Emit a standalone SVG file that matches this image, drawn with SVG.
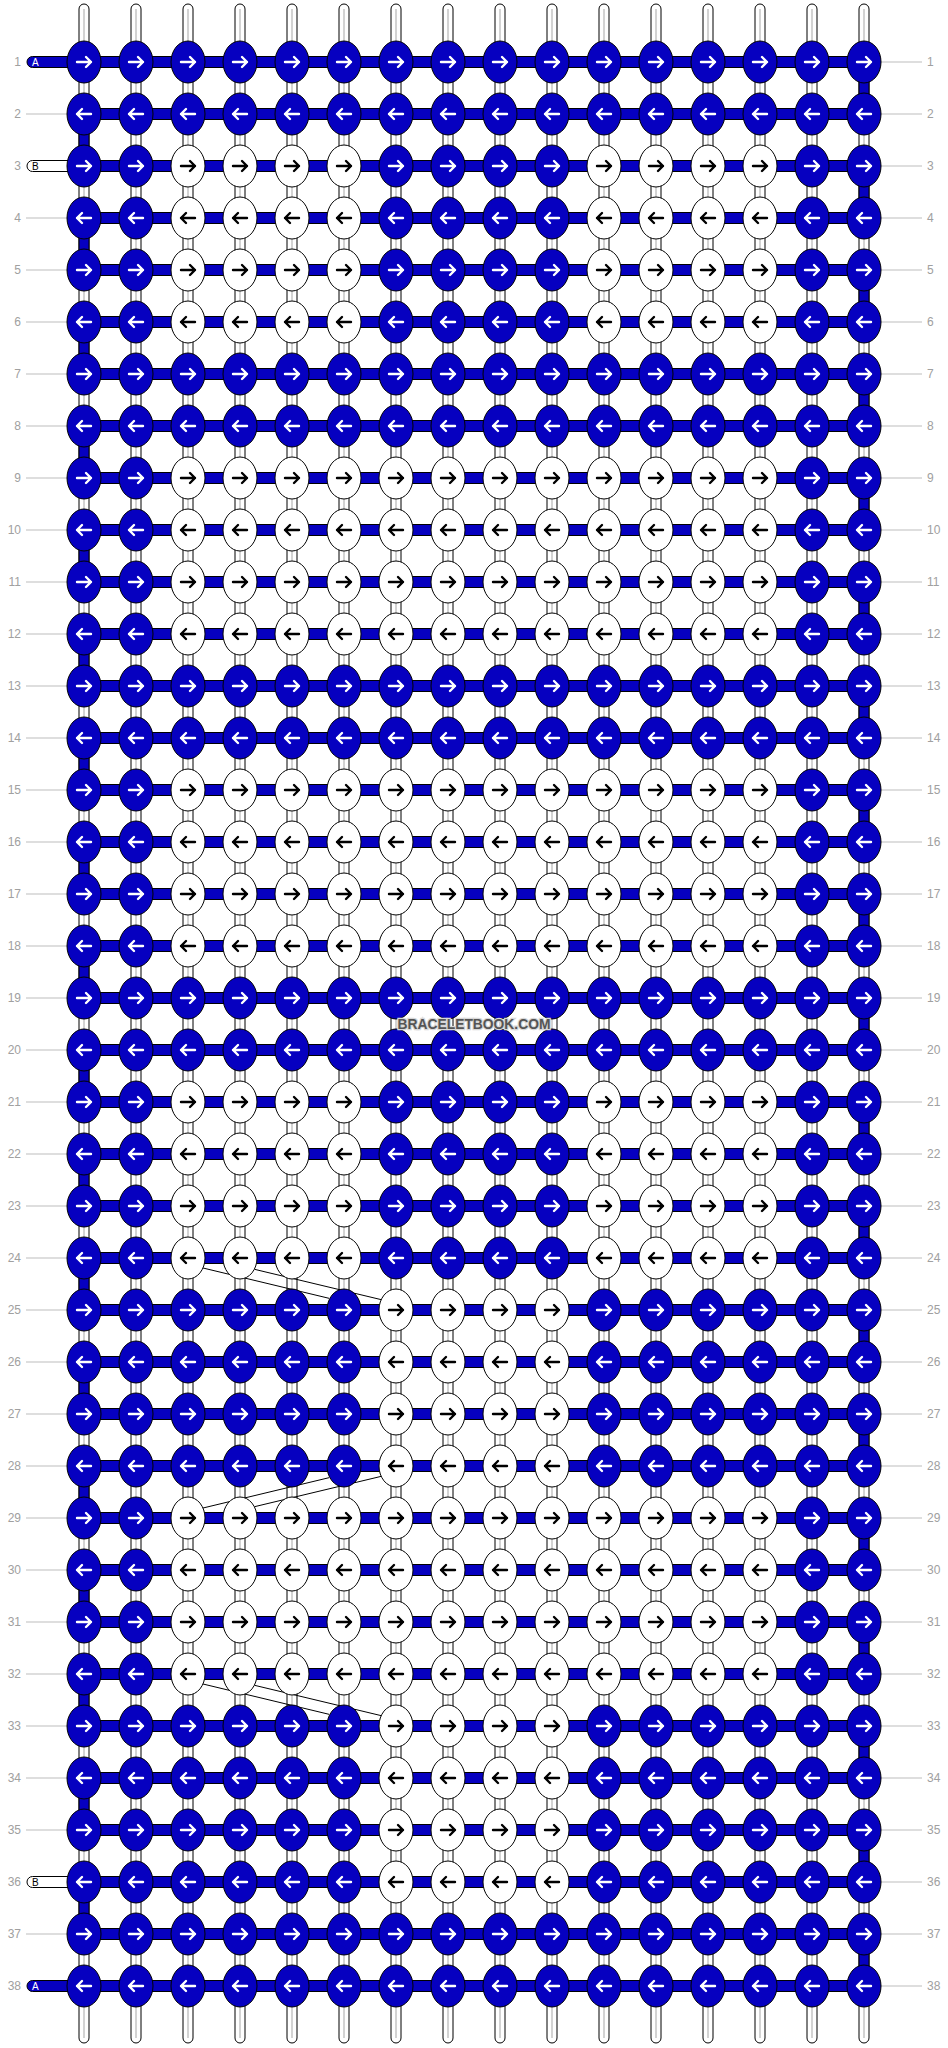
<svg xmlns="http://www.w3.org/2000/svg" width="948" height="2048" viewBox="0 0 948 2048">
<style>
.kb{fill:#0600c0;stroke:#000;stroke-width:1}
.kw{fill:#fff;stroke:#000;stroke-width:1}
.aw{fill:none;stroke:#fff;stroke-width:2.4;stroke-linecap:round;stroke-linejoin:round}
.ab{fill:none;stroke:#000;stroke-width:2.4;stroke-linecap:round;stroke-linejoin:round}
.vs{fill:#fff;stroke:#000;stroke-width:1}
.vg{stroke:#c4c4c4;stroke-width:1.5}
.hb{fill:#0600c0;stroke:#000;stroke-width:1}
.eb{fill:#0600c0;stroke:#000;stroke-width:1}
.dl{stroke:#000;stroke-width:1;fill:none}
.gl{stroke:#bdbdbd;stroke-width:1}
.num{font-family:"Liberation Sans",Arial,sans-serif;font-size:12px;fill:#a0a0a0}
.pa{fill:#0600c0;stroke:#000;stroke-width:1}
.pb{fill:#fff;stroke:#000;stroke-width:1}
.lt{font-family:"Liberation Sans",Arial,sans-serif;font-size:10px}
.wm{font-family:"Liberation Sans",Arial,sans-serif;font-weight:bold;font-size:14.5px;fill:#555;stroke:#d8d8d8;stroke-width:2.5;paint-order:stroke;text-anchor:middle}
</style>
<defs>
<g id="bR"><ellipse rx="17" ry="21" class="kb"/><path d="M-7 0H7M2-5L7 0L2 5" class="aw"/></g>
<g id="bL"><ellipse rx="17" ry="21" class="kb"/><path d="M7 0H-7M-2-5L-7 0L-2 5" class="aw"/></g>
<g id="wR"><ellipse rx="17" ry="21" class="kw"/><path d="M-7 0H7M2-5L7 0L2 5" class="ab"/></g>
<g id="wL"><ellipse rx="17" ry="21" class="kw"/><path d="M7 0H-7M-2-5L-7 0L-2 5" class="ab"/></g>
</defs>
<rect width="948" height="2048" fill="#fff"/>
<g id="connectors">
<g id="strings">
<rect class="vs" x="79" y="4" width="10" height="2039" rx="5"/><line class="vg" x1="84" y1="9" x2="84" y2="2038"/>
<rect class="vs" x="131" y="4" width="10" height="2039" rx="5"/><line class="vg" x1="136" y1="9" x2="136" y2="2038"/>
<rect class="vs" x="183" y="4" width="10" height="2039" rx="5"/><line class="vg" x1="188" y1="9" x2="188" y2="2038"/>
<rect class="vs" x="235" y="4" width="10" height="2039" rx="5"/><line class="vg" x1="240" y1="9" x2="240" y2="2038"/>
<rect class="vs" x="287" y="4" width="10" height="2039" rx="5"/><line class="vg" x1="292" y1="9" x2="292" y2="2038"/>
<rect class="vs" x="339" y="4" width="10" height="2039" rx="5"/><line class="vg" x1="344" y1="9" x2="344" y2="2038"/>
<rect class="vs" x="391" y="4" width="10" height="2039" rx="5"/><line class="vg" x1="396" y1="9" x2="396" y2="2038"/>
<rect class="vs" x="443" y="4" width="10" height="2039" rx="5"/><line class="vg" x1="448" y1="9" x2="448" y2="2038"/>
<rect class="vs" x="495" y="4" width="10" height="2039" rx="5"/><line class="vg" x1="500" y1="9" x2="500" y2="2038"/>
<rect class="vs" x="547" y="4" width="10" height="2039" rx="5"/><line class="vg" x1="552" y1="9" x2="552" y2="2038"/>
<rect class="vs" x="599" y="4" width="10" height="2039" rx="5"/><line class="vg" x1="604" y1="9" x2="604" y2="2038"/>
<rect class="vs" x="651" y="4" width="10" height="2039" rx="5"/><line class="vg" x1="656" y1="9" x2="656" y2="2038"/>
<rect class="vs" x="703" y="4" width="10" height="2039" rx="5"/><line class="vg" x1="708" y1="9" x2="708" y2="2038"/>
<rect class="vs" x="755" y="4" width="10" height="2039" rx="5"/><line class="vg" x1="760" y1="9" x2="760" y2="2038"/>
<rect class="vs" x="807" y="4" width="10" height="2039" rx="5"/><line class="vg" x1="812" y1="9" x2="812" y2="2038"/>
<rect class="vs" x="859" y="4" width="10" height="2039" rx="5"/><line class="vg" x1="864" y1="9" x2="864" y2="2038"/>
</g>
<g id="bars">
<rect class="hb" x="84" y="56.5" width="780" height="11"/>
<rect class="hb" x="84" y="108.5" width="780" height="11"/>
<rect class="hb" x="84" y="160.5" width="780" height="11"/>
<rect class="hb" x="84" y="212.5" width="780" height="11"/>
<rect class="hb" x="84" y="264.5" width="780" height="11"/>
<rect class="hb" x="84" y="316.5" width="780" height="11"/>
<rect class="hb" x="84" y="368.5" width="780" height="11"/>
<rect class="hb" x="84" y="420.5" width="780" height="11"/>
<rect class="hb" x="84" y="472.5" width="780" height="11"/>
<rect class="hb" x="84" y="524.5" width="780" height="11"/>
<rect class="hb" x="84" y="576.5" width="780" height="11"/>
<rect class="hb" x="84" y="628.5" width="780" height="11"/>
<rect class="hb" x="84" y="680.5" width="780" height="11"/>
<rect class="hb" x="84" y="732.5" width="780" height="11"/>
<rect class="hb" x="84" y="784.5" width="780" height="11"/>
<rect class="hb" x="84" y="836.5" width="780" height="11"/>
<rect class="hb" x="84" y="888.5" width="780" height="11"/>
<rect class="hb" x="84" y="940.5" width="780" height="11"/>
<rect class="hb" x="84" y="992.5" width="780" height="11"/>
<rect class="hb" x="84" y="1044.5" width="780" height="11"/>
<rect class="hb" x="84" y="1096.5" width="780" height="11"/>
<rect class="hb" x="84" y="1148.5" width="780" height="11"/>
<rect class="hb" x="84" y="1200.5" width="780" height="11"/>
<rect class="hb" x="84" y="1252.5" width="780" height="11"/>
<rect class="hb" x="84" y="1304.5" width="780" height="11"/>
<rect class="hb" x="84" y="1356.5" width="780" height="11"/>
<rect class="hb" x="84" y="1408.5" width="780" height="11"/>
<rect class="hb" x="84" y="1460.5" width="780" height="11"/>
<rect class="hb" x="84" y="1512.5" width="780" height="11"/>
<rect class="hb" x="84" y="1564.5" width="780" height="11"/>
<rect class="hb" x="84" y="1616.5" width="780" height="11"/>
<rect class="hb" x="84" y="1668.5" width="780" height="11"/>
<rect class="hb" x="84" y="1720.5" width="780" height="11"/>
<rect class="hb" x="84" y="1772.5" width="780" height="11"/>
<rect class="hb" x="84" y="1824.5" width="780" height="11"/>
<rect class="hb" x="84" y="1876.5" width="780" height="11"/>
<rect class="hb" x="84" y="1928.5" width="780" height="11"/>
<rect class="hb" x="84" y="1980.5" width="780" height="11"/>
</g>
<g id="edge-turns">
<path class="eb" d="M79 114h10v52h-10zM79 218h10v52h-10zM79 322h10v52h-10zM79 426h10v52h-10zM79 530h10v52h-10zM79 634h10v52h-10zM79 738h10v52h-10zM79 842h10v52h-10zM79 946h10v52h-10zM79 1050h10v52h-10zM79 1154h10v52h-10zM79 1258h10v52h-10zM79 1362h10v52h-10zM79 1466h10v52h-10zM79 1570h10v52h-10zM79 1674h10v52h-10zM79 1778h10v52h-10zM79 1882h10v52h-10z"/>
<path class="eb" d="M859 62h10v52h-10zM859 166h10v52h-10zM859 270h10v52h-10zM859 374h10v52h-10zM859 478h10v52h-10zM859 582h10v52h-10zM859 686h10v52h-10zM859 790h10v52h-10zM859 894h10v52h-10zM859 998h10v52h-10zM859 1102h10v52h-10zM859 1206h10v52h-10zM859 1310h10v52h-10zM859 1414h10v52h-10zM859 1518h10v52h-10zM859 1622h10v52h-10zM859 1726h10v52h-10zM859 1830h10v52h-10zM859 1934h10v52h-10z"/>
</g>
<g id="diagonals">
<line class="dl" x1="203" y1="1268" x2="329" y2="1298.3"/>
<line class="dl" x1="254.5" y1="1269.3" x2="381" y2="1299.6"/>
<line class="dl" x1="203" y1="1508" x2="329" y2="1477.7"/>
<line class="dl" x1="254.5" y1="1506.7" x2="381" y2="1476.4"/>
<line class="dl" x1="203" y1="1684" x2="329" y2="1714.3"/>
<line class="dl" x1="254.5" y1="1685.3" x2="381" y2="1715.6"/>
</g>
</g>
<g id="labels">
<g id="guides">
<line class="gl" x1="26" y1="114" x2="67" y2="114"/>
<line class="gl" x1="26" y1="218" x2="67" y2="218"/>
<line class="gl" x1="26" y1="270" x2="67" y2="270"/>
<line class="gl" x1="26" y1="322" x2="67" y2="322"/>
<line class="gl" x1="26" y1="374" x2="67" y2="374"/>
<line class="gl" x1="26" y1="426" x2="67" y2="426"/>
<line class="gl" x1="26" y1="478" x2="67" y2="478"/>
<line class="gl" x1="26" y1="530" x2="67" y2="530"/>
<line class="gl" x1="26" y1="582" x2="67" y2="582"/>
<line class="gl" x1="26" y1="634" x2="67" y2="634"/>
<line class="gl" x1="26" y1="686" x2="67" y2="686"/>
<line class="gl" x1="26" y1="738" x2="67" y2="738"/>
<line class="gl" x1="26" y1="790" x2="67" y2="790"/>
<line class="gl" x1="26" y1="842" x2="67" y2="842"/>
<line class="gl" x1="26" y1="894" x2="67" y2="894"/>
<line class="gl" x1="26" y1="946" x2="67" y2="946"/>
<line class="gl" x1="26" y1="998" x2="67" y2="998"/>
<line class="gl" x1="26" y1="1050" x2="67" y2="1050"/>
<line class="gl" x1="26" y1="1102" x2="67" y2="1102"/>
<line class="gl" x1="26" y1="1154" x2="67" y2="1154"/>
<line class="gl" x1="26" y1="1206" x2="67" y2="1206"/>
<line class="gl" x1="26" y1="1258" x2="67" y2="1258"/>
<line class="gl" x1="26" y1="1310" x2="67" y2="1310"/>
<line class="gl" x1="26" y1="1362" x2="67" y2="1362"/>
<line class="gl" x1="26" y1="1414" x2="67" y2="1414"/>
<line class="gl" x1="26" y1="1466" x2="67" y2="1466"/>
<line class="gl" x1="26" y1="1518" x2="67" y2="1518"/>
<line class="gl" x1="26" y1="1570" x2="67" y2="1570"/>
<line class="gl" x1="26" y1="1622" x2="67" y2="1622"/>
<line class="gl" x1="26" y1="1674" x2="67" y2="1674"/>
<line class="gl" x1="26" y1="1726" x2="67" y2="1726"/>
<line class="gl" x1="26" y1="1778" x2="67" y2="1778"/>
<line class="gl" x1="26" y1="1830" x2="67" y2="1830"/>
<line class="gl" x1="26" y1="1934" x2="67" y2="1934"/>
<path class="gl" d="M881 62H922M881 114H922M881 166H922M881 218H922M881 270H922M881 322H922M881 374H922M881 426H922M881 478H922M881 530H922M881 582H922M881 634H922M881 686H922M881 738H922M881 790H922M881 842H922M881 894H922M881 946H922M881 998H922M881 1050H922M881 1102H922M881 1154H922M881 1206H922M881 1258H922M881 1310H922M881 1362H922M881 1414H922M881 1466H922M881 1518H922M881 1570H922M881 1622H922M881 1674H922M881 1726H922M881 1778H922M881 1830H922M881 1882H922M881 1934H922M881 1986H922"/>
</g>
<g id="pills">
<path class="pa" d="M32.5 56.5H84V67.5H32.5A5.5 5.5 0 0 1 32.5 56.5Z"/><text class="lt" x="32" y="65.6" fill="#fff">A</text>
<path class="pb" d="M32.5 160.5H84V171.5H32.5A5.5 5.5 0 0 1 32.5 160.5Z"/><text class="lt" x="32" y="169.6" fill="#000">B</text>
<path class="pb" d="M32.5 1876.5H84V1887.5H32.5A5.5 5.5 0 0 1 32.5 1876.5Z"/><text class="lt" x="32" y="1885.6" fill="#000">B</text>
<path class="pa" d="M32.5 1980.5H84V1991.5H32.5A5.5 5.5 0 0 1 32.5 1980.5Z"/><text class="lt" x="32" y="1989.6" fill="#fff">A</text>
</g>
<g id="numbers-left" class="num" text-anchor="end">
<text x="21" y="66.3">1</text><text x="21" y="118.3">2</text><text x="21" y="170.3">3</text><text x="21" y="222.3">4</text><text x="21" y="274.3">5</text><text x="21" y="326.3">6</text><text x="21" y="378.3">7</text><text x="21" y="430.3">8</text><text x="21" y="482.3">9</text><text x="21" y="534.3">10</text><text x="21" y="586.3">11</text><text x="21" y="638.3">12</text><text x="21" y="690.3">13</text><text x="21" y="742.3">14</text><text x="21" y="794.3">15</text><text x="21" y="846.3">16</text><text x="21" y="898.3">17</text><text x="21" y="950.3">18</text><text x="21" y="1002.3">19</text><text x="21" y="1054.3">20</text><text x="21" y="1106.3">21</text><text x="21" y="1158.3">22</text><text x="21" y="1210.3">23</text><text x="21" y="1262.3">24</text><text x="21" y="1314.3">25</text><text x="21" y="1366.3">26</text><text x="21" y="1418.3">27</text><text x="21" y="1470.3">28</text><text x="21" y="1522.3">29</text><text x="21" y="1574.3">30</text><text x="21" y="1626.3">31</text><text x="21" y="1678.3">32</text><text x="21" y="1730.3">33</text><text x="21" y="1782.3">34</text><text x="21" y="1834.3">35</text><text x="21" y="1886.3">36</text><text x="21" y="1938.3">37</text><text x="21" y="1990.3">38</text>
</g>
<g id="numbers-right" class="num">
<text x="927" y="66.3">1</text><text x="927" y="118.3">2</text><text x="927" y="170.3">3</text><text x="927" y="222.3">4</text><text x="927" y="274.3">5</text><text x="927" y="326.3">6</text><text x="927" y="378.3">7</text><text x="927" y="430.3">8</text><text x="927" y="482.3">9</text><text x="927" y="534.3">10</text><text x="927" y="586.3">11</text><text x="927" y="638.3">12</text><text x="927" y="690.3">13</text><text x="927" y="742.3">14</text><text x="927" y="794.3">15</text><text x="927" y="846.3">16</text><text x="927" y="898.3">17</text><text x="927" y="950.3">18</text><text x="927" y="1002.3">19</text><text x="927" y="1054.3">20</text><text x="927" y="1106.3">21</text><text x="927" y="1158.3">22</text><text x="927" y="1210.3">23</text><text x="927" y="1262.3">24</text><text x="927" y="1314.3">25</text><text x="927" y="1366.3">26</text><text x="927" y="1418.3">27</text><text x="927" y="1470.3">28</text><text x="927" y="1522.3">29</text><text x="927" y="1574.3">30</text><text x="927" y="1626.3">31</text><text x="927" y="1678.3">32</text><text x="927" y="1730.3">33</text><text x="927" y="1782.3">34</text><text x="927" y="1834.3">35</text><text x="927" y="1886.3">36</text><text x="927" y="1938.3">37</text><text x="927" y="1990.3">38</text>
</g>
</g>
<g id="knots">
<g id="row1" transform="translate(0,62)">
<g id="k1-1"><use href="#bR" x="84"/></g><g id="k1-2"><use href="#bR" x="136"/></g><g id="k1-3"><use href="#bR" x="188"/></g><g id="k1-4"><use href="#bR" x="240"/></g><g id="k1-5"><use href="#bR" x="292"/></g><g id="k1-6"><use href="#bR" x="344"/></g><g id="k1-7"><use href="#bR" x="396"/></g><g id="k1-8"><use href="#bR" x="448"/></g><g id="k1-9"><use href="#bR" x="500"/></g><g id="k1-10"><use href="#bR" x="552"/></g><g id="k1-11"><use href="#bR" x="604"/></g><g id="k1-12"><use href="#bR" x="656"/></g><g id="k1-13"><use href="#bR" x="708"/></g><g id="k1-14"><use href="#bR" x="760"/></g><g id="k1-15"><use href="#bR" x="812"/></g><g id="k1-16"><use href="#bR" x="864"/></g>
</g>
<g id="row2" transform="translate(0,114)">
<g id="k2-1"><use href="#bL" x="84"/></g><g id="k2-2"><use href="#bL" x="136"/></g><g id="k2-3"><use href="#bL" x="188"/></g><g id="k2-4"><use href="#bL" x="240"/></g><g id="k2-5"><use href="#bL" x="292"/></g><g id="k2-6"><use href="#bL" x="344"/></g><g id="k2-7"><use href="#bL" x="396"/></g><g id="k2-8"><use href="#bL" x="448"/></g><g id="k2-9"><use href="#bL" x="500"/></g><g id="k2-10"><use href="#bL" x="552"/></g><g id="k2-11"><use href="#bL" x="604"/></g><g id="k2-12"><use href="#bL" x="656"/></g><g id="k2-13"><use href="#bL" x="708"/></g><g id="k2-14"><use href="#bL" x="760"/></g><g id="k2-15"><use href="#bL" x="812"/></g><g id="k2-16"><use href="#bL" x="864"/></g>
</g>
<g id="row3" transform="translate(0,166)">
<g id="k3-1"><use href="#bR" x="84"/></g><g id="k3-2"><use href="#bR" x="136"/></g><g id="k3-3"><use href="#wR" x="188"/></g><g id="k3-4"><use href="#wR" x="240"/></g><g id="k3-5"><use href="#wR" x="292"/></g><g id="k3-6"><use href="#wR" x="344"/></g><g id="k3-7"><use href="#bR" x="396"/></g><g id="k3-8"><use href="#bR" x="448"/></g><g id="k3-9"><use href="#bR" x="500"/></g><g id="k3-10"><use href="#bR" x="552"/></g><g id="k3-11"><use href="#wR" x="604"/></g><g id="k3-12"><use href="#wR" x="656"/></g><g id="k3-13"><use href="#wR" x="708"/></g><g id="k3-14"><use href="#wR" x="760"/></g><g id="k3-15"><use href="#bR" x="812"/></g><g id="k3-16"><use href="#bR" x="864"/></g>
</g>
<g id="row4" transform="translate(0,218)">
<g id="k4-1"><use href="#bL" x="84"/></g><g id="k4-2"><use href="#bL" x="136"/></g><g id="k4-3"><use href="#wL" x="188"/></g><g id="k4-4"><use href="#wL" x="240"/></g><g id="k4-5"><use href="#wL" x="292"/></g><g id="k4-6"><use href="#wL" x="344"/></g><g id="k4-7"><use href="#bL" x="396"/></g><g id="k4-8"><use href="#bL" x="448"/></g><g id="k4-9"><use href="#bL" x="500"/></g><g id="k4-10"><use href="#bL" x="552"/></g><g id="k4-11"><use href="#wL" x="604"/></g><g id="k4-12"><use href="#wL" x="656"/></g><g id="k4-13"><use href="#wL" x="708"/></g><g id="k4-14"><use href="#wL" x="760"/></g><g id="k4-15"><use href="#bL" x="812"/></g><g id="k4-16"><use href="#bL" x="864"/></g>
</g>
<g id="row5" transform="translate(0,270)">
<g id="k5-1"><use href="#bR" x="84"/></g><g id="k5-2"><use href="#bR" x="136"/></g><g id="k5-3"><use href="#wR" x="188"/></g><g id="k5-4"><use href="#wR" x="240"/></g><g id="k5-5"><use href="#wR" x="292"/></g><g id="k5-6"><use href="#wR" x="344"/></g><g id="k5-7"><use href="#bR" x="396"/></g><g id="k5-8"><use href="#bR" x="448"/></g><g id="k5-9"><use href="#bR" x="500"/></g><g id="k5-10"><use href="#bR" x="552"/></g><g id="k5-11"><use href="#wR" x="604"/></g><g id="k5-12"><use href="#wR" x="656"/></g><g id="k5-13"><use href="#wR" x="708"/></g><g id="k5-14"><use href="#wR" x="760"/></g><g id="k5-15"><use href="#bR" x="812"/></g><g id="k5-16"><use href="#bR" x="864"/></g>
</g>
<g id="row6" transform="translate(0,322)">
<g id="k6-1"><use href="#bL" x="84"/></g><g id="k6-2"><use href="#bL" x="136"/></g><g id="k6-3"><use href="#wL" x="188"/></g><g id="k6-4"><use href="#wL" x="240"/></g><g id="k6-5"><use href="#wL" x="292"/></g><g id="k6-6"><use href="#wL" x="344"/></g><g id="k6-7"><use href="#bL" x="396"/></g><g id="k6-8"><use href="#bL" x="448"/></g><g id="k6-9"><use href="#bL" x="500"/></g><g id="k6-10"><use href="#bL" x="552"/></g><g id="k6-11"><use href="#wL" x="604"/></g><g id="k6-12"><use href="#wL" x="656"/></g><g id="k6-13"><use href="#wL" x="708"/></g><g id="k6-14"><use href="#wL" x="760"/></g><g id="k6-15"><use href="#bL" x="812"/></g><g id="k6-16"><use href="#bL" x="864"/></g>
</g>
<g id="row7" transform="translate(0,374)">
<g id="k7-1"><use href="#bR" x="84"/></g><g id="k7-2"><use href="#bR" x="136"/></g><g id="k7-3"><use href="#bR" x="188"/></g><g id="k7-4"><use href="#bR" x="240"/></g><g id="k7-5"><use href="#bR" x="292"/></g><g id="k7-6"><use href="#bR" x="344"/></g><g id="k7-7"><use href="#bR" x="396"/></g><g id="k7-8"><use href="#bR" x="448"/></g><g id="k7-9"><use href="#bR" x="500"/></g><g id="k7-10"><use href="#bR" x="552"/></g><g id="k7-11"><use href="#bR" x="604"/></g><g id="k7-12"><use href="#bR" x="656"/></g><g id="k7-13"><use href="#bR" x="708"/></g><g id="k7-14"><use href="#bR" x="760"/></g><g id="k7-15"><use href="#bR" x="812"/></g><g id="k7-16"><use href="#bR" x="864"/></g>
</g>
<g id="row8" transform="translate(0,426)">
<g id="k8-1"><use href="#bL" x="84"/></g><g id="k8-2"><use href="#bL" x="136"/></g><g id="k8-3"><use href="#bL" x="188"/></g><g id="k8-4"><use href="#bL" x="240"/></g><g id="k8-5"><use href="#bL" x="292"/></g><g id="k8-6"><use href="#bL" x="344"/></g><g id="k8-7"><use href="#bL" x="396"/></g><g id="k8-8"><use href="#bL" x="448"/></g><g id="k8-9"><use href="#bL" x="500"/></g><g id="k8-10"><use href="#bL" x="552"/></g><g id="k8-11"><use href="#bL" x="604"/></g><g id="k8-12"><use href="#bL" x="656"/></g><g id="k8-13"><use href="#bL" x="708"/></g><g id="k8-14"><use href="#bL" x="760"/></g><g id="k8-15"><use href="#bL" x="812"/></g><g id="k8-16"><use href="#bL" x="864"/></g>
</g>
<g id="row9" transform="translate(0,478)">
<g id="k9-1"><use href="#bR" x="84"/></g><g id="k9-2"><use href="#bR" x="136"/></g><g id="k9-3"><use href="#wR" x="188"/></g><g id="k9-4"><use href="#wR" x="240"/></g><g id="k9-5"><use href="#wR" x="292"/></g><g id="k9-6"><use href="#wR" x="344"/></g><g id="k9-7"><use href="#wR" x="396"/></g><g id="k9-8"><use href="#wR" x="448"/></g><g id="k9-9"><use href="#wR" x="500"/></g><g id="k9-10"><use href="#wR" x="552"/></g><g id="k9-11"><use href="#wR" x="604"/></g><g id="k9-12"><use href="#wR" x="656"/></g><g id="k9-13"><use href="#wR" x="708"/></g><g id="k9-14"><use href="#wR" x="760"/></g><g id="k9-15"><use href="#bR" x="812"/></g><g id="k9-16"><use href="#bR" x="864"/></g>
</g>
<g id="row10" transform="translate(0,530)">
<g id="k10-1"><use href="#bL" x="84"/></g><g id="k10-2"><use href="#bL" x="136"/></g><g id="k10-3"><use href="#wL" x="188"/></g><g id="k10-4"><use href="#wL" x="240"/></g><g id="k10-5"><use href="#wL" x="292"/></g><g id="k10-6"><use href="#wL" x="344"/></g><g id="k10-7"><use href="#wL" x="396"/></g><g id="k10-8"><use href="#wL" x="448"/></g><g id="k10-9"><use href="#wL" x="500"/></g><g id="k10-10"><use href="#wL" x="552"/></g><g id="k10-11"><use href="#wL" x="604"/></g><g id="k10-12"><use href="#wL" x="656"/></g><g id="k10-13"><use href="#wL" x="708"/></g><g id="k10-14"><use href="#wL" x="760"/></g><g id="k10-15"><use href="#bL" x="812"/></g><g id="k10-16"><use href="#bL" x="864"/></g>
</g>
<g id="row11" transform="translate(0,582)">
<g id="k11-1"><use href="#bR" x="84"/></g><g id="k11-2"><use href="#bR" x="136"/></g><g id="k11-3"><use href="#wR" x="188"/></g><g id="k11-4"><use href="#wR" x="240"/></g><g id="k11-5"><use href="#wR" x="292"/></g><g id="k11-6"><use href="#wR" x="344"/></g><g id="k11-7"><use href="#wR" x="396"/></g><g id="k11-8"><use href="#wR" x="448"/></g><g id="k11-9"><use href="#wR" x="500"/></g><g id="k11-10"><use href="#wR" x="552"/></g><g id="k11-11"><use href="#wR" x="604"/></g><g id="k11-12"><use href="#wR" x="656"/></g><g id="k11-13"><use href="#wR" x="708"/></g><g id="k11-14"><use href="#wR" x="760"/></g><g id="k11-15"><use href="#bR" x="812"/></g><g id="k11-16"><use href="#bR" x="864"/></g>
</g>
<g id="row12" transform="translate(0,634)">
<g id="k12-1"><use href="#bL" x="84"/></g><g id="k12-2"><use href="#bL" x="136"/></g><g id="k12-3"><use href="#wL" x="188"/></g><g id="k12-4"><use href="#wL" x="240"/></g><g id="k12-5"><use href="#wL" x="292"/></g><g id="k12-6"><use href="#wL" x="344"/></g><g id="k12-7"><use href="#wL" x="396"/></g><g id="k12-8"><use href="#wL" x="448"/></g><g id="k12-9"><use href="#wL" x="500"/></g><g id="k12-10"><use href="#wL" x="552"/></g><g id="k12-11"><use href="#wL" x="604"/></g><g id="k12-12"><use href="#wL" x="656"/></g><g id="k12-13"><use href="#wL" x="708"/></g><g id="k12-14"><use href="#wL" x="760"/></g><g id="k12-15"><use href="#bL" x="812"/></g><g id="k12-16"><use href="#bL" x="864"/></g>
</g>
<g id="row13" transform="translate(0,686)">
<g id="k13-1"><use href="#bR" x="84"/></g><g id="k13-2"><use href="#bR" x="136"/></g><g id="k13-3"><use href="#bR" x="188"/></g><g id="k13-4"><use href="#bR" x="240"/></g><g id="k13-5"><use href="#bR" x="292"/></g><g id="k13-6"><use href="#bR" x="344"/></g><g id="k13-7"><use href="#bR" x="396"/></g><g id="k13-8"><use href="#bR" x="448"/></g><g id="k13-9"><use href="#bR" x="500"/></g><g id="k13-10"><use href="#bR" x="552"/></g><g id="k13-11"><use href="#bR" x="604"/></g><g id="k13-12"><use href="#bR" x="656"/></g><g id="k13-13"><use href="#bR" x="708"/></g><g id="k13-14"><use href="#bR" x="760"/></g><g id="k13-15"><use href="#bR" x="812"/></g><g id="k13-16"><use href="#bR" x="864"/></g>
</g>
<g id="row14" transform="translate(0,738)">
<g id="k14-1"><use href="#bL" x="84"/></g><g id="k14-2"><use href="#bL" x="136"/></g><g id="k14-3"><use href="#bL" x="188"/></g><g id="k14-4"><use href="#bL" x="240"/></g><g id="k14-5"><use href="#bL" x="292"/></g><g id="k14-6"><use href="#bL" x="344"/></g><g id="k14-7"><use href="#bL" x="396"/></g><g id="k14-8"><use href="#bL" x="448"/></g><g id="k14-9"><use href="#bL" x="500"/></g><g id="k14-10"><use href="#bL" x="552"/></g><g id="k14-11"><use href="#bL" x="604"/></g><g id="k14-12"><use href="#bL" x="656"/></g><g id="k14-13"><use href="#bL" x="708"/></g><g id="k14-14"><use href="#bL" x="760"/></g><g id="k14-15"><use href="#bL" x="812"/></g><g id="k14-16"><use href="#bL" x="864"/></g>
</g>
<g id="row15" transform="translate(0,790)">
<g id="k15-1"><use href="#bR" x="84"/></g><g id="k15-2"><use href="#bR" x="136"/></g><g id="k15-3"><use href="#wR" x="188"/></g><g id="k15-4"><use href="#wR" x="240"/></g><g id="k15-5"><use href="#wR" x="292"/></g><g id="k15-6"><use href="#wR" x="344"/></g><g id="k15-7"><use href="#wR" x="396"/></g><g id="k15-8"><use href="#wR" x="448"/></g><g id="k15-9"><use href="#wR" x="500"/></g><g id="k15-10"><use href="#wR" x="552"/></g><g id="k15-11"><use href="#wR" x="604"/></g><g id="k15-12"><use href="#wR" x="656"/></g><g id="k15-13"><use href="#wR" x="708"/></g><g id="k15-14"><use href="#wR" x="760"/></g><g id="k15-15"><use href="#bR" x="812"/></g><g id="k15-16"><use href="#bR" x="864"/></g>
</g>
<g id="row16" transform="translate(0,842)">
<g id="k16-1"><use href="#bL" x="84"/></g><g id="k16-2"><use href="#bL" x="136"/></g><g id="k16-3"><use href="#wL" x="188"/></g><g id="k16-4"><use href="#wL" x="240"/></g><g id="k16-5"><use href="#wL" x="292"/></g><g id="k16-6"><use href="#wL" x="344"/></g><g id="k16-7"><use href="#wL" x="396"/></g><g id="k16-8"><use href="#wL" x="448"/></g><g id="k16-9"><use href="#wL" x="500"/></g><g id="k16-10"><use href="#wL" x="552"/></g><g id="k16-11"><use href="#wL" x="604"/></g><g id="k16-12"><use href="#wL" x="656"/></g><g id="k16-13"><use href="#wL" x="708"/></g><g id="k16-14"><use href="#wL" x="760"/></g><g id="k16-15"><use href="#bL" x="812"/></g><g id="k16-16"><use href="#bL" x="864"/></g>
</g>
<g id="row17" transform="translate(0,894)">
<g id="k17-1"><use href="#bR" x="84"/></g><g id="k17-2"><use href="#bR" x="136"/></g><g id="k17-3"><use href="#wR" x="188"/></g><g id="k17-4"><use href="#wR" x="240"/></g><g id="k17-5"><use href="#wR" x="292"/></g><g id="k17-6"><use href="#wR" x="344"/></g><g id="k17-7"><use href="#wR" x="396"/></g><g id="k17-8"><use href="#wR" x="448"/></g><g id="k17-9"><use href="#wR" x="500"/></g><g id="k17-10"><use href="#wR" x="552"/></g><g id="k17-11"><use href="#wR" x="604"/></g><g id="k17-12"><use href="#wR" x="656"/></g><g id="k17-13"><use href="#wR" x="708"/></g><g id="k17-14"><use href="#wR" x="760"/></g><g id="k17-15"><use href="#bR" x="812"/></g><g id="k17-16"><use href="#bR" x="864"/></g>
</g>
<g id="row18" transform="translate(0,946)">
<g id="k18-1"><use href="#bL" x="84"/></g><g id="k18-2"><use href="#bL" x="136"/></g><g id="k18-3"><use href="#wL" x="188"/></g><g id="k18-4"><use href="#wL" x="240"/></g><g id="k18-5"><use href="#wL" x="292"/></g><g id="k18-6"><use href="#wL" x="344"/></g><g id="k18-7"><use href="#wL" x="396"/></g><g id="k18-8"><use href="#wL" x="448"/></g><g id="k18-9"><use href="#wL" x="500"/></g><g id="k18-10"><use href="#wL" x="552"/></g><g id="k18-11"><use href="#wL" x="604"/></g><g id="k18-12"><use href="#wL" x="656"/></g><g id="k18-13"><use href="#wL" x="708"/></g><g id="k18-14"><use href="#wL" x="760"/></g><g id="k18-15"><use href="#bL" x="812"/></g><g id="k18-16"><use href="#bL" x="864"/></g>
</g>
<g id="row19" transform="translate(0,998)">
<g id="k19-1"><use href="#bR" x="84"/></g><g id="k19-2"><use href="#bR" x="136"/></g><g id="k19-3"><use href="#bR" x="188"/></g><g id="k19-4"><use href="#bR" x="240"/></g><g id="k19-5"><use href="#bR" x="292"/></g><g id="k19-6"><use href="#bR" x="344"/></g><g id="k19-7"><use href="#bR" x="396"/></g><g id="k19-8"><use href="#bR" x="448"/></g><g id="k19-9"><use href="#bR" x="500"/></g><g id="k19-10"><use href="#bR" x="552"/></g><g id="k19-11"><use href="#bR" x="604"/></g><g id="k19-12"><use href="#bR" x="656"/></g><g id="k19-13"><use href="#bR" x="708"/></g><g id="k19-14"><use href="#bR" x="760"/></g><g id="k19-15"><use href="#bR" x="812"/></g><g id="k19-16"><use href="#bR" x="864"/></g>
</g>
<g id="row20" transform="translate(0,1050)">
<g id="k20-1"><use href="#bL" x="84"/></g><g id="k20-2"><use href="#bL" x="136"/></g><g id="k20-3"><use href="#bL" x="188"/></g><g id="k20-4"><use href="#bL" x="240"/></g><g id="k20-5"><use href="#bL" x="292"/></g><g id="k20-6"><use href="#bL" x="344"/></g><g id="k20-7"><use href="#bL" x="396"/></g><g id="k20-8"><use href="#bL" x="448"/></g><g id="k20-9"><use href="#bL" x="500"/></g><g id="k20-10"><use href="#bL" x="552"/></g><g id="k20-11"><use href="#bL" x="604"/></g><g id="k20-12"><use href="#bL" x="656"/></g><g id="k20-13"><use href="#bL" x="708"/></g><g id="k20-14"><use href="#bL" x="760"/></g><g id="k20-15"><use href="#bL" x="812"/></g><g id="k20-16"><use href="#bL" x="864"/></g>
</g>
<g id="row21" transform="translate(0,1102)">
<g id="k21-1"><use href="#bR" x="84"/></g><g id="k21-2"><use href="#bR" x="136"/></g><g id="k21-3"><use href="#wR" x="188"/></g><g id="k21-4"><use href="#wR" x="240"/></g><g id="k21-5"><use href="#wR" x="292"/></g><g id="k21-6"><use href="#wR" x="344"/></g><g id="k21-7"><use href="#bR" x="396"/></g><g id="k21-8"><use href="#bR" x="448"/></g><g id="k21-9"><use href="#bR" x="500"/></g><g id="k21-10"><use href="#bR" x="552"/></g><g id="k21-11"><use href="#wR" x="604"/></g><g id="k21-12"><use href="#wR" x="656"/></g><g id="k21-13"><use href="#wR" x="708"/></g><g id="k21-14"><use href="#wR" x="760"/></g><g id="k21-15"><use href="#bR" x="812"/></g><g id="k21-16"><use href="#bR" x="864"/></g>
</g>
<g id="row22" transform="translate(0,1154)">
<g id="k22-1"><use href="#bL" x="84"/></g><g id="k22-2"><use href="#bL" x="136"/></g><g id="k22-3"><use href="#wL" x="188"/></g><g id="k22-4"><use href="#wL" x="240"/></g><g id="k22-5"><use href="#wL" x="292"/></g><g id="k22-6"><use href="#wL" x="344"/></g><g id="k22-7"><use href="#bL" x="396"/></g><g id="k22-8"><use href="#bL" x="448"/></g><g id="k22-9"><use href="#bL" x="500"/></g><g id="k22-10"><use href="#bL" x="552"/></g><g id="k22-11"><use href="#wL" x="604"/></g><g id="k22-12"><use href="#wL" x="656"/></g><g id="k22-13"><use href="#wL" x="708"/></g><g id="k22-14"><use href="#wL" x="760"/></g><g id="k22-15"><use href="#bL" x="812"/></g><g id="k22-16"><use href="#bL" x="864"/></g>
</g>
<g id="row23" transform="translate(0,1206)">
<g id="k23-1"><use href="#bR" x="84"/></g><g id="k23-2"><use href="#bR" x="136"/></g><g id="k23-3"><use href="#wR" x="188"/></g><g id="k23-4"><use href="#wR" x="240"/></g><g id="k23-5"><use href="#wR" x="292"/></g><g id="k23-6"><use href="#wR" x="344"/></g><g id="k23-7"><use href="#bR" x="396"/></g><g id="k23-8"><use href="#bR" x="448"/></g><g id="k23-9"><use href="#bR" x="500"/></g><g id="k23-10"><use href="#bR" x="552"/></g><g id="k23-11"><use href="#wR" x="604"/></g><g id="k23-12"><use href="#wR" x="656"/></g><g id="k23-13"><use href="#wR" x="708"/></g><g id="k23-14"><use href="#wR" x="760"/></g><g id="k23-15"><use href="#bR" x="812"/></g><g id="k23-16"><use href="#bR" x="864"/></g>
</g>
<g id="row24" transform="translate(0,1258)">
<g id="k24-1"><use href="#bL" x="84"/></g><g id="k24-2"><use href="#bL" x="136"/></g><g id="k24-3"><use href="#wL" x="188"/></g><g id="k24-4"><use href="#wL" x="240"/></g><g id="k24-5"><use href="#wL" x="292"/></g><g id="k24-6"><use href="#wL" x="344"/></g><g id="k24-7"><use href="#bL" x="396"/></g><g id="k24-8"><use href="#bL" x="448"/></g><g id="k24-9"><use href="#bL" x="500"/></g><g id="k24-10"><use href="#bL" x="552"/></g><g id="k24-11"><use href="#wL" x="604"/></g><g id="k24-12"><use href="#wL" x="656"/></g><g id="k24-13"><use href="#wL" x="708"/></g><g id="k24-14"><use href="#wL" x="760"/></g><g id="k24-15"><use href="#bL" x="812"/></g><g id="k24-16"><use href="#bL" x="864"/></g>
</g>
<g id="row25" transform="translate(0,1310)">
<g id="k25-1"><use href="#bR" x="84"/></g><g id="k25-2"><use href="#bR" x="136"/></g><g id="k25-3"><use href="#bR" x="188"/></g><g id="k25-4"><use href="#bR" x="240"/></g><g id="k25-5"><use href="#bR" x="292"/></g><g id="k25-6"><use href="#bR" x="344"/></g><g id="k25-7"><use href="#wR" x="396"/></g><g id="k25-8"><use href="#wR" x="448"/></g><g id="k25-9"><use href="#wR" x="500"/></g><g id="k25-10"><use href="#wR" x="552"/></g><g id="k25-11"><use href="#bR" x="604"/></g><g id="k25-12"><use href="#bR" x="656"/></g><g id="k25-13"><use href="#bR" x="708"/></g><g id="k25-14"><use href="#bR" x="760"/></g><g id="k25-15"><use href="#bR" x="812"/></g><g id="k25-16"><use href="#bR" x="864"/></g>
</g>
<g id="row26" transform="translate(0,1362)">
<g id="k26-1"><use href="#bL" x="84"/></g><g id="k26-2"><use href="#bL" x="136"/></g><g id="k26-3"><use href="#bL" x="188"/></g><g id="k26-4"><use href="#bL" x="240"/></g><g id="k26-5"><use href="#bL" x="292"/></g><g id="k26-6"><use href="#bL" x="344"/></g><g id="k26-7"><use href="#wL" x="396"/></g><g id="k26-8"><use href="#wL" x="448"/></g><g id="k26-9"><use href="#wL" x="500"/></g><g id="k26-10"><use href="#wL" x="552"/></g><g id="k26-11"><use href="#bL" x="604"/></g><g id="k26-12"><use href="#bL" x="656"/></g><g id="k26-13"><use href="#bL" x="708"/></g><g id="k26-14"><use href="#bL" x="760"/></g><g id="k26-15"><use href="#bL" x="812"/></g><g id="k26-16"><use href="#bL" x="864"/></g>
</g>
<g id="row27" transform="translate(0,1414)">
<g id="k27-1"><use href="#bR" x="84"/></g><g id="k27-2"><use href="#bR" x="136"/></g><g id="k27-3"><use href="#bR" x="188"/></g><g id="k27-4"><use href="#bR" x="240"/></g><g id="k27-5"><use href="#bR" x="292"/></g><g id="k27-6"><use href="#bR" x="344"/></g><g id="k27-7"><use href="#wR" x="396"/></g><g id="k27-8"><use href="#wR" x="448"/></g><g id="k27-9"><use href="#wR" x="500"/></g><g id="k27-10"><use href="#wR" x="552"/></g><g id="k27-11"><use href="#bR" x="604"/></g><g id="k27-12"><use href="#bR" x="656"/></g><g id="k27-13"><use href="#bR" x="708"/></g><g id="k27-14"><use href="#bR" x="760"/></g><g id="k27-15"><use href="#bR" x="812"/></g><g id="k27-16"><use href="#bR" x="864"/></g>
</g>
<g id="row28" transform="translate(0,1466)">
<g id="k28-1"><use href="#bL" x="84"/></g><g id="k28-2"><use href="#bL" x="136"/></g><g id="k28-3"><use href="#bL" x="188"/></g><g id="k28-4"><use href="#bL" x="240"/></g><g id="k28-5"><use href="#bL" x="292"/></g><g id="k28-6"><use href="#bL" x="344"/></g><g id="k28-7"><use href="#wL" x="396"/></g><g id="k28-8"><use href="#wL" x="448"/></g><g id="k28-9"><use href="#wL" x="500"/></g><g id="k28-10"><use href="#wL" x="552"/></g><g id="k28-11"><use href="#bL" x="604"/></g><g id="k28-12"><use href="#bL" x="656"/></g><g id="k28-13"><use href="#bL" x="708"/></g><g id="k28-14"><use href="#bL" x="760"/></g><g id="k28-15"><use href="#bL" x="812"/></g><g id="k28-16"><use href="#bL" x="864"/></g>
</g>
<g id="row29" transform="translate(0,1518)">
<g id="k29-1"><use href="#bR" x="84"/></g><g id="k29-2"><use href="#bR" x="136"/></g><g id="k29-3"><use href="#wR" x="188"/></g><g id="k29-4"><use href="#wR" x="240"/></g><g id="k29-5"><use href="#wR" x="292"/></g><g id="k29-6"><use href="#wR" x="344"/></g><g id="k29-7"><use href="#wR" x="396"/></g><g id="k29-8"><use href="#wR" x="448"/></g><g id="k29-9"><use href="#wR" x="500"/></g><g id="k29-10"><use href="#wR" x="552"/></g><g id="k29-11"><use href="#wR" x="604"/></g><g id="k29-12"><use href="#wR" x="656"/></g><g id="k29-13"><use href="#wR" x="708"/></g><g id="k29-14"><use href="#wR" x="760"/></g><g id="k29-15"><use href="#bR" x="812"/></g><g id="k29-16"><use href="#bR" x="864"/></g>
</g>
<g id="row30" transform="translate(0,1570)">
<g id="k30-1"><use href="#bL" x="84"/></g><g id="k30-2"><use href="#bL" x="136"/></g><g id="k30-3"><use href="#wL" x="188"/></g><g id="k30-4"><use href="#wL" x="240"/></g><g id="k30-5"><use href="#wL" x="292"/></g><g id="k30-6"><use href="#wL" x="344"/></g><g id="k30-7"><use href="#wL" x="396"/></g><g id="k30-8"><use href="#wL" x="448"/></g><g id="k30-9"><use href="#wL" x="500"/></g><g id="k30-10"><use href="#wL" x="552"/></g><g id="k30-11"><use href="#wL" x="604"/></g><g id="k30-12"><use href="#wL" x="656"/></g><g id="k30-13"><use href="#wL" x="708"/></g><g id="k30-14"><use href="#wL" x="760"/></g><g id="k30-15"><use href="#bL" x="812"/></g><g id="k30-16"><use href="#bL" x="864"/></g>
</g>
<g id="row31" transform="translate(0,1622)">
<g id="k31-1"><use href="#bR" x="84"/></g><g id="k31-2"><use href="#bR" x="136"/></g><g id="k31-3"><use href="#wR" x="188"/></g><g id="k31-4"><use href="#wR" x="240"/></g><g id="k31-5"><use href="#wR" x="292"/></g><g id="k31-6"><use href="#wR" x="344"/></g><g id="k31-7"><use href="#wR" x="396"/></g><g id="k31-8"><use href="#wR" x="448"/></g><g id="k31-9"><use href="#wR" x="500"/></g><g id="k31-10"><use href="#wR" x="552"/></g><g id="k31-11"><use href="#wR" x="604"/></g><g id="k31-12"><use href="#wR" x="656"/></g><g id="k31-13"><use href="#wR" x="708"/></g><g id="k31-14"><use href="#wR" x="760"/></g><g id="k31-15"><use href="#bR" x="812"/></g><g id="k31-16"><use href="#bR" x="864"/></g>
</g>
<g id="row32" transform="translate(0,1674)">
<g id="k32-1"><use href="#bL" x="84"/></g><g id="k32-2"><use href="#bL" x="136"/></g><g id="k32-3"><use href="#wL" x="188"/></g><g id="k32-4"><use href="#wL" x="240"/></g><g id="k32-5"><use href="#wL" x="292"/></g><g id="k32-6"><use href="#wL" x="344"/></g><g id="k32-7"><use href="#wL" x="396"/></g><g id="k32-8"><use href="#wL" x="448"/></g><g id="k32-9"><use href="#wL" x="500"/></g><g id="k32-10"><use href="#wL" x="552"/></g><g id="k32-11"><use href="#wL" x="604"/></g><g id="k32-12"><use href="#wL" x="656"/></g><g id="k32-13"><use href="#wL" x="708"/></g><g id="k32-14"><use href="#wL" x="760"/></g><g id="k32-15"><use href="#bL" x="812"/></g><g id="k32-16"><use href="#bL" x="864"/></g>
</g>
<g id="row33" transform="translate(0,1726)">
<g id="k33-1"><use href="#bR" x="84"/></g><g id="k33-2"><use href="#bR" x="136"/></g><g id="k33-3"><use href="#bR" x="188"/></g><g id="k33-4"><use href="#bR" x="240"/></g><g id="k33-5"><use href="#bR" x="292"/></g><g id="k33-6"><use href="#bR" x="344"/></g><g id="k33-7"><use href="#wR" x="396"/></g><g id="k33-8"><use href="#wR" x="448"/></g><g id="k33-9"><use href="#wR" x="500"/></g><g id="k33-10"><use href="#wR" x="552"/></g><g id="k33-11"><use href="#bR" x="604"/></g><g id="k33-12"><use href="#bR" x="656"/></g><g id="k33-13"><use href="#bR" x="708"/></g><g id="k33-14"><use href="#bR" x="760"/></g><g id="k33-15"><use href="#bR" x="812"/></g><g id="k33-16"><use href="#bR" x="864"/></g>
</g>
<g id="row34" transform="translate(0,1778)">
<g id="k34-1"><use href="#bL" x="84"/></g><g id="k34-2"><use href="#bL" x="136"/></g><g id="k34-3"><use href="#bL" x="188"/></g><g id="k34-4"><use href="#bL" x="240"/></g><g id="k34-5"><use href="#bL" x="292"/></g><g id="k34-6"><use href="#bL" x="344"/></g><g id="k34-7"><use href="#wL" x="396"/></g><g id="k34-8"><use href="#wL" x="448"/></g><g id="k34-9"><use href="#wL" x="500"/></g><g id="k34-10"><use href="#wL" x="552"/></g><g id="k34-11"><use href="#bL" x="604"/></g><g id="k34-12"><use href="#bL" x="656"/></g><g id="k34-13"><use href="#bL" x="708"/></g><g id="k34-14"><use href="#bL" x="760"/></g><g id="k34-15"><use href="#bL" x="812"/></g><g id="k34-16"><use href="#bL" x="864"/></g>
</g>
<g id="row35" transform="translate(0,1830)">
<g id="k35-1"><use href="#bR" x="84"/></g><g id="k35-2"><use href="#bR" x="136"/></g><g id="k35-3"><use href="#bR" x="188"/></g><g id="k35-4"><use href="#bR" x="240"/></g><g id="k35-5"><use href="#bR" x="292"/></g><g id="k35-6"><use href="#bR" x="344"/></g><g id="k35-7"><use href="#wR" x="396"/></g><g id="k35-8"><use href="#wR" x="448"/></g><g id="k35-9"><use href="#wR" x="500"/></g><g id="k35-10"><use href="#wR" x="552"/></g><g id="k35-11"><use href="#bR" x="604"/></g><g id="k35-12"><use href="#bR" x="656"/></g><g id="k35-13"><use href="#bR" x="708"/></g><g id="k35-14"><use href="#bR" x="760"/></g><g id="k35-15"><use href="#bR" x="812"/></g><g id="k35-16"><use href="#bR" x="864"/></g>
</g>
<g id="row36" transform="translate(0,1882)">
<g id="k36-1"><use href="#bL" x="84"/></g><g id="k36-2"><use href="#bL" x="136"/></g><g id="k36-3"><use href="#bL" x="188"/></g><g id="k36-4"><use href="#bL" x="240"/></g><g id="k36-5"><use href="#bL" x="292"/></g><g id="k36-6"><use href="#bL" x="344"/></g><g id="k36-7"><use href="#wL" x="396"/></g><g id="k36-8"><use href="#wL" x="448"/></g><g id="k36-9"><use href="#wL" x="500"/></g><g id="k36-10"><use href="#wL" x="552"/></g><g id="k36-11"><use href="#bL" x="604"/></g><g id="k36-12"><use href="#bL" x="656"/></g><g id="k36-13"><use href="#bL" x="708"/></g><g id="k36-14"><use href="#bL" x="760"/></g><g id="k36-15"><use href="#bL" x="812"/></g><g id="k36-16"><use href="#bL" x="864"/></g>
</g>
<g id="row37" transform="translate(0,1934)">
<g id="k37-1"><use href="#bR" x="84"/></g><g id="k37-2"><use href="#bR" x="136"/></g><g id="k37-3"><use href="#bR" x="188"/></g><g id="k37-4"><use href="#bR" x="240"/></g><g id="k37-5"><use href="#bR" x="292"/></g><g id="k37-6"><use href="#bR" x="344"/></g><g id="k37-7"><use href="#bR" x="396"/></g><g id="k37-8"><use href="#bR" x="448"/></g><g id="k37-9"><use href="#bR" x="500"/></g><g id="k37-10"><use href="#bR" x="552"/></g><g id="k37-11"><use href="#bR" x="604"/></g><g id="k37-12"><use href="#bR" x="656"/></g><g id="k37-13"><use href="#bR" x="708"/></g><g id="k37-14"><use href="#bR" x="760"/></g><g id="k37-15"><use href="#bR" x="812"/></g><g id="k37-16"><use href="#bR" x="864"/></g>
</g>
<g id="row38" transform="translate(0,1986)">
<g id="k38-1"><use href="#bL" x="84"/></g><g id="k38-2"><use href="#bL" x="136"/></g><g id="k38-3"><use href="#bL" x="188"/></g><g id="k38-4"><use href="#bL" x="240"/></g><g id="k38-5"><use href="#bL" x="292"/></g><g id="k38-6"><use href="#bL" x="344"/></g><g id="k38-7"><use href="#bL" x="396"/></g><g id="k38-8"><use href="#bL" x="448"/></g><g id="k38-9"><use href="#bL" x="500"/></g><g id="k38-10"><use href="#bL" x="552"/></g><g id="k38-11"><use href="#bL" x="604"/></g><g id="k38-12"><use href="#bL" x="656"/></g><g id="k38-13"><use href="#bL" x="708"/></g><g id="k38-14"><use href="#bL" x="760"/></g><g id="k38-15"><use href="#bL" x="812"/></g><g id="k38-16"><use href="#bL" x="864"/></g>
</g>
</g>
<g id="watermark">
<text class="wm" x="474" y="1029" textLength="153" lengthAdjust="spacingAndGlyphs">BRACELETBOOK.COM</text>
</g>
</svg>
